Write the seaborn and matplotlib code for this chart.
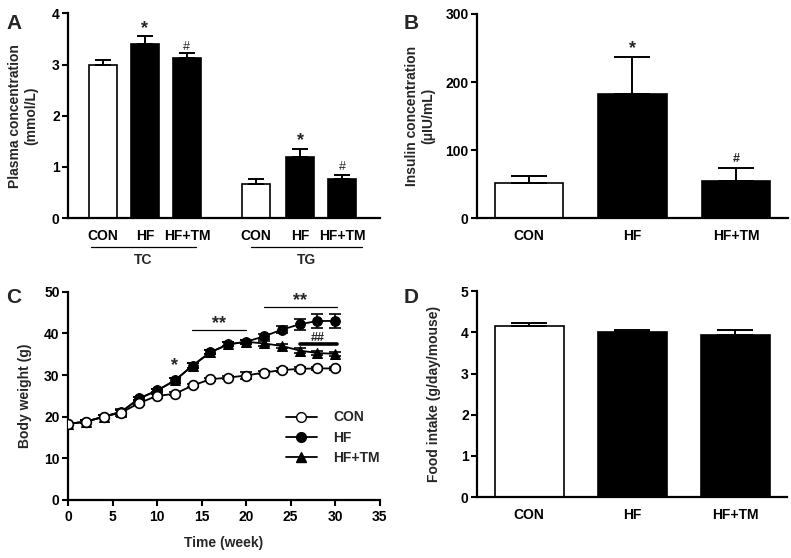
import numpy as np
import pandas as pd
import matplotlib
matplotlib.use("Agg")
import matplotlib.pyplot as plt
from matplotlib.lines import Line2D
import seaborn as sns

sns.set_style("ticks")
plt.rcParams['font.family'] = ['Liberation Sans', 'DejaVu Sans']
plt.rcParams['font.weight'] = 'bold'
plt.rcParams['axes.labelweight'] = 'bold'

# ---------------- data ----------------
groups = ["CON", "HF", "HF+TM"]
lipid_names = ["TC", "TG"]
tc_mean = [3.00, 3.40, 3.13]
tc_sem = [0.08, 0.16, 0.10]
tg_mean = [0.67, 1.19, 0.77]
tg_sem = [0.10, 0.16, 0.08]
insulin_mean = [51, 183, 55]
insulin_sem = [11, 54, 18]
food_mean = [4.15, 4.00, 3.95]
food_sem = [0.08, 0.06, 0.11]
weeks = [0, 2, 4, 6, 8, 10, 12, 14, 16, 18, 20, 22, 24, 26, 28, 30]
bw_con = [18.3, 18.8, 20.0, 21.0, 23.3, 25.0, 25.5, 27.5, 29.0, 29.4, 29.9, 30.6, 31.2, 31.5, 31.6, 31.6]
bw_con_sem = [0.3, 0.3, 0.4, 0.8, 0.4, 0.4, 0.4, 0.4, 0.4, 0.4, 0.8, 0.4, 0.4, 0.4, 0.4, 0.4]
bw_hf = [18.3, 18.8, 20.0, 21.2, 24.4, 26.3, 28.7, 32.3, 35.5, 37.4, 38.0, 39.3, 40.9, 42.2, 43.0, 43.0]
bw_hf_sem = [0.3, 0.3, 0.4, 0.5, 0.4, 0.4, 0.5, 0.5, 0.5, 0.5, 0.5, 0.6, 0.8, 1.3, 1.7, 1.7]
bw_tm = [18.3, 18.8, 20.0, 21.2, 24.4, 26.3, 28.7, 32.3, 35.5, 37.4, 38.0, 37.6, 37.0, 35.9, 35.3, 35.1]
bw_tm_sem = [0.3, 0.3, 0.4, 0.5, 0.4, 0.4, 0.5, 0.5, 0.5, 0.5, 0.5, 0.5, 0.5, 0.5, 0.5, 0.5]

colors = ["white", "black", "black"]

fig = plt.figure(figsize=(7.91, 5.58), dpi=100)

def style_axes(ax, xticks=False):
    for s in ["top", "right"]:
        ax.spines[s].set_visible(False)
    for s in ["left", "bottom"]:
        ax.spines[s].set_linewidth(1.6)
        ax.spines[s].set_color("black")
    ax.tick_params(axis="y", length=4, width=1.5, labelsize=10, pad=2, colors="black")
    if xticks:
        ax.tick_params(axis="x", length=4, width=1.5, labelsize=10, pad=3, colors="black")
    else:
        ax.tick_params(axis="x", length=0, labelsize=10, pad=8, colors="black")
    for lab in ax.get_xticklabels() + ax.get_yticklabels():
        lab.set_fontweight("bold")

# ---------------- Panel A ----------------
axA = fig.add_axes([0.086, 0.609, 0.394, 0.367])
posA = [0, 1, 2, 3.65, 4.7, 5.7]
dfA = pd.DataFrame({
    "pos": posA,
    "val": tc_mean + tg_mean,
    "grp": groups + groups,
})
sns.barplot(data=dfA, x="pos", y="val", hue="grp", palette=dict(zip(groups, colors)),
            native_scale=True, width=0.68, edgecolor="black", linewidth=1.2,
            legend=False, ax=axA, errorbar=None, dodge=False)
semA = tc_sem + tg_sem
axA.errorbar(posA, tc_mean + tg_mean, yerr=[np.zeros(6), semA], fmt="none",
             ecolor="black", elinewidth=1.4, capsize=5.5, capthick=1.4, zorder=1)
axA.set_xlim(-0.833, 6.595)
axA.set_ylim(0, 4)
axA.set_yticks([0, 1, 2, 3, 4])
axA.set_xticks(posA)
axA.set_xticklabels(groups + groups)
axA.set_xlabel("")
axA.set_ylabel("Plasma concentration\n(mmol/L)", fontsize=10, fontweight="bold", labelpad=10)
style_axes(axA)
trA = axA.get_xaxis_transform()
for (x0, x1), name in zip([(-0.29, 2.21), (3.52, 6.17)], lipid_names):
    axA.plot([x0, x1], [-0.141, -0.141], color="black", lw=0.9, transform=trA, clip_on=False)
    axA.text((x0 + x1) / 2, -0.205, name, transform=trA, ha="center", va="center",
             fontsize=10, fontweight="bold")
for x, y, s in [(1, 3.62, "*"), (2, 3.28, "#"), (4.7, 1.43, "*"), (5.7, 0.95, "#")]:
    axA.text(x, y, s, ha="center", va="baseline",
             fontsize=13 if s == "*" else 9, fontweight="bold" if s == "*" else "normal")

# ---------------- Panel B ----------------
axB = fig.add_axes([0.603, 0.609, 0.393, 0.366])
dfB = pd.DataFrame({"grp": groups, "val": insulin_mean})
sns.barplot(data=dfB, x="grp", y="val", hue="grp", palette=dict(zip(groups, colors)),
            width=0.66, edgecolor="black", linewidth=1.2, legend=False, ax=axB, errorbar=None)
axB.errorbar(range(3), insulin_mean, yerr=[np.zeros(3), insulin_sem], fmt="none",
             ecolor="black", elinewidth=1.4, capsize=13, capthick=1.4, zorder=1)
axB.set_xlim(-0.5, 2.5)
axB.set_ylim(0, 300)
axB.set_yticks([0, 100, 200, 300])
axB.set_xlabel("")
axB.set_ylabel("Insulin concentration\n(μIU/mL)", fontsize=10, fontweight="bold", labelpad=7)
style_axes(axB)
axB.text(1, 243, "*", ha="center", va="baseline", fontsize=13, fontweight="bold")
axB.text(2, 82, "#", ha="center", va="baseline", fontsize=9)

# ---------------- Panel C ----------------
axC = fig.add_axes([0.086, 0.104, 0.394, 0.373])
dfC = pd.DataFrame({
    "week": weeks * 3,
    "bw": bw_con + bw_hf + bw_tm,
    "grp": ["CON"] * len(weeks) + ["HF"] * len(weeks) + ["HF+TM"] * len(weeks),
})
axC.errorbar(weeks, bw_tm, yerr=bw_tm_sem, fmt="none", ecolor="black", elinewidth=1.2,
             capsize=4, capthick=1.2, zorder=1)
sns.lineplot(data=dfC[dfC.grp == "HF+TM"], x="week", y="bw", color="black", lw=1.3,
             marker="^", markersize=6.5, markerfacecolor="black", markeredgecolor="black",
             ax=axC, zorder=2)
axC.errorbar(weeks, bw_hf, yerr=bw_hf_sem, fmt="none", ecolor="black", elinewidth=1.2,
             capsize=4, capthick=1.2, zorder=3)
sns.lineplot(data=dfC[dfC.grp == "HF"], x="week", y="bw", color="black", lw=1.3,
             marker="o", markersize=7, markerfacecolor="black", markeredgecolor="black",
             ax=axC, zorder=4)
axC.errorbar(weeks, bw_con, yerr=bw_con_sem, fmt="none", ecolor="black", elinewidth=1.2,
             capsize=4, capthick=1.2, zorder=5)
sns.lineplot(data=dfC[dfC.grp == "CON"], x="week", y="bw", color="black", lw=1.3,
             marker="o", markersize=7, markerfacecolor="white", markeredgecolor="black",
             markeredgewidth=1.2, ax=axC, zorder=6)
axC.set_xlim(0, 35)
axC.set_ylim(0, 50)
axC.set_xticks([0, 5, 10, 15, 20, 25, 30, 35])
axC.set_yticks([0, 10, 20, 30, 40, 50])
axC.set_xlabel("Time (week)", fontsize=10, fontweight="bold", labelpad=9)
axC.set_ylabel("Body weight (g)", fontsize=10, fontweight="bold", labelpad=9)
style_axes(axC, xticks=True)
axC.plot([13.9, 20.0], [40.8, 40.8], color="black", lw=0.9)
axC.text(17, 41.3, "**", ha="center", va="baseline", fontsize=13, fontweight="bold")
axC.plot([22.0, 30.2], [46.4, 46.4], color="black", lw=0.9)
axC.text(26.1, 46.9, "**", ha="center", va="baseline", fontsize=13, fontweight="bold")
axC.plot([26.0, 30.2], [37.5, 37.5], color="black", lw=2.6)
axC.text(28.1, 38.3, "##", ha="center", va="baseline", fontsize=9)
axC.text(12, 31.2, "*", ha="center", va="baseline", fontsize=13, fontweight="bold")
handles = [
    Line2D([0], [0], color="black", lw=1.3, marker="o", markersize=7,
           markerfacecolor="white", markeredgecolor="black"),
    Line2D([0], [0], color="black", lw=1.3, marker="o", markersize=7,
           markerfacecolor="black", markeredgecolor="black"),
    Line2D([0], [0], color="black", lw=1.3, marker="^", markersize=6.5,
           markerfacecolor="black", markeredgecolor="black"),
]
leg = axC.legend(handles, groups, loc="upper left", bbox_to_anchor=(0.66, 0.49),
                 frameon=False, handlelength=2.2, handletextpad=1.2, labelspacing=0.45,
                 prop={"family": "Liberation Sans", "weight": "bold", "size": 10})

# ---------------- Panel D ----------------
axD = fig.add_axes([0.603, 0.109, 0.392, 0.369])
dfD = pd.DataFrame({"grp": groups, "val": food_mean})
sns.barplot(data=dfD, x="grp", y="val", hue="grp", palette=dict(zip(groups, colors)),
            width=0.67, edgecolor="black", linewidth=1.2, legend=False, ax=axD, errorbar=None)
axD.errorbar(range(3), food_mean, yerr=[np.zeros(3), food_sem], fmt="none",
             ecolor="black", elinewidth=1.4, capsize=13, capthick=1.4, zorder=1)
axD.set_xlim(-0.505, 2.5)
axD.set_ylim(0, 5)
axD.set_yticks([0, 1, 2, 3, 4, 5])
axD.set_xlabel("")
axD.set_ylabel("Food intake (g/day/mouse)", fontsize=10, fontweight="bold", labelpad=14)
style_axes(axD)

# panel letters
for x, y, s in [(0.008, 0.975, "A"), (0.510, 0.975, "B"), (0.008, 0.483, "C"), (0.510, 0.483, "D")]:
    fig.text(x, y, s, fontsize=15, fontweight="bold", va="top", ha="left")

fig.savefig("out.png", dpi=100)
